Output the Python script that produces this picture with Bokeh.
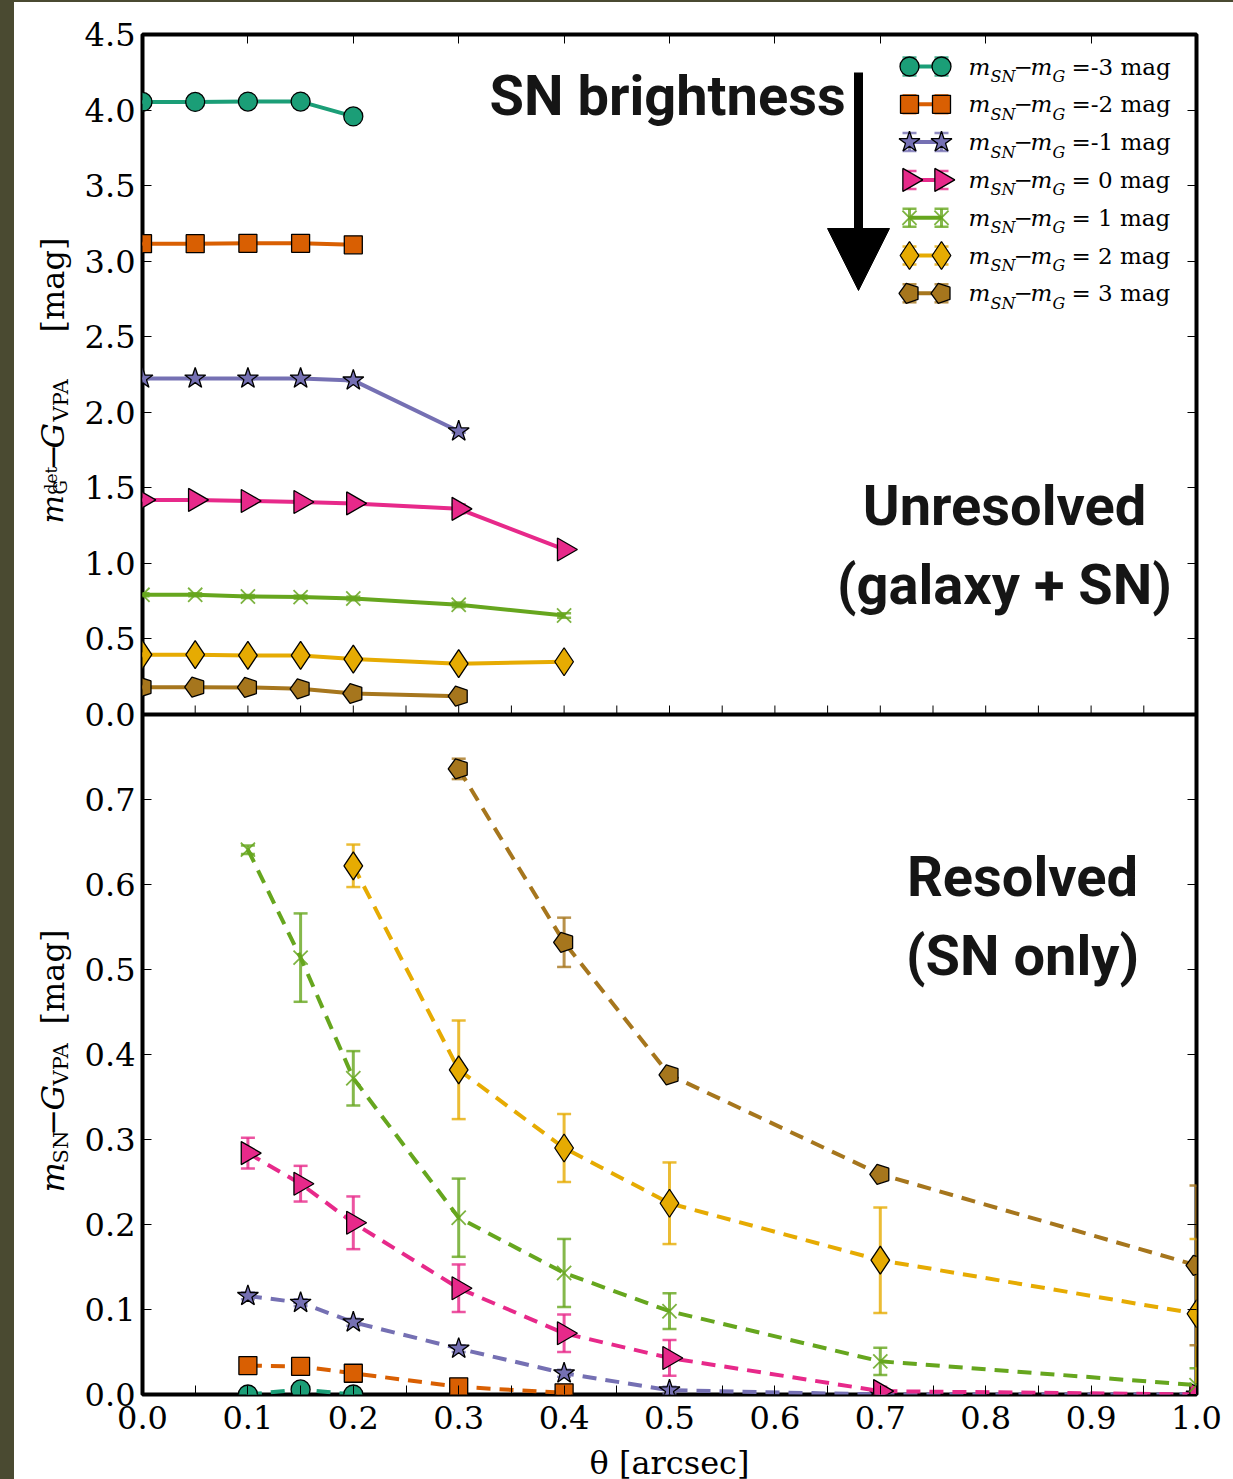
import math
from bokeh.plotting import figure
from bokeh.models import (Range1d, LinearAxis, FixedTicker, PrintfTickFormatter, Label,
                          Arrow, NormalHead, Whisker, TeeHead, ColumnDataSource, Div,
                          CustomJSTickFormatter, Span)
from bokeh.layouts import column, row
from bokeh.embed import file_html
from bokeh.resources import INLINE
from bokeh.core.properties import value

# ---------------- data ----------------
legend_texts = ["=-3 mag", "=-2 mag", "=-1 mag", "= 0 mag", "= 1 mag", "= 2 mag", "= 3 mag"]
colors = ["#1b9e77", "#d95f02", "#7570b3", "#e7298a", "#66a61e", "#e6ab02", "#a6761d"]
marker_kinds = ["circle", "square", "star", "triangle", "x", "diamond", "pentagon"]

# Unresolved (galaxy + SN): m_G^det - G_VPA [mag]
top_theta_m3 = [0.0, 0.05, 0.1, 0.15, 0.2]
top_val_m3 = [4.054, 4.054, 4.056, 4.056, 3.958]
top_err_m3 = [0.005, 0.005, 0.005, 0.005, 0.005]
top_theta_m2 = [0.0, 0.05, 0.1, 0.15, 0.2]
top_val_m2 = [3.116, 3.116, 3.118, 3.118, 3.108]
top_err_m2 = [0.005, 0.005, 0.005, 0.005, 0.005]
top_theta_m1 = [0.0, 0.05, 0.1, 0.15, 0.2, 0.3]
top_val_m1 = [2.224, 2.224, 2.224, 2.224, 2.211, 1.874]
top_err_m1 = [0.005, 0.005, 0.005, 0.005, 0.006, 0.01]
top_theta_0 = [0.0, 0.05, 0.1, 0.15, 0.2, 0.3, 0.4]
top_val_0 = [1.420, 1.420, 1.413, 1.406, 1.397, 1.361, 1.092]
top_err_0 = [0.006, 0.006, 0.006, 0.007, 0.008, 0.03, 0.01]
top_theta_p1 = [0.0, 0.05, 0.1, 0.15, 0.2, 0.3, 0.4]
top_val_p1 = [0.792, 0.792, 0.781, 0.777, 0.768, 0.726, 0.655]
top_err_p1 = [0.01, 0.01, 0.01, 0.01, 0.012, 0.015, 0.015]
top_theta_p2 = [0.0, 0.05, 0.1, 0.15, 0.2, 0.3, 0.4]
top_val_p2 = [0.396, 0.396, 0.391, 0.391, 0.367, 0.336, 0.349]
top_err_p2 = [0.01, 0.01, 0.01, 0.01, 0.01, 0.01, 0.01]
top_theta_p3 = [0.0, 0.05, 0.1, 0.15, 0.2, 0.3]
top_val_p3 = [0.181, 0.181, 0.179, 0.170, 0.139, 0.121]
top_err_p3 = [0.008, 0.008, 0.008, 0.008, 0.008, 0.008]

# Resolved (SN only): m_SN - G_VPA [mag]
bot_theta_m3 = [0.1, 0.15, 0.2]
bot_val_m3 = [0.0, 0.006, 0.0]
bot_err_m3 = [0.002, 0.002, 0.002]
bot_theta_m2 = [0.1, 0.15, 0.2, 0.3, 0.4]
bot_val_m2 = [0.034, 0.033, 0.025, 0.009, 0.002]
bot_err_m2 = [0.003, 0.003, 0.003, 0.003, 0.003]
bot_theta_m1 = [0.1, 0.15, 0.2, 0.3, 0.4, 0.5, 0.7, 1.0]
bot_val_m1 = [0.116, 0.108, 0.085, 0.054, 0.025, 0.005, 0.0, 0.0]
bot_err_m1 = [0.004, 0.004, 0.004, 0.004, 0.004, 0.004, 0.002, 0.002]
bot_theta_0 = [0.1, 0.15, 0.2, 0.3, 0.4, 0.5, 0.7, 1.0]
bot_val_0 = [0.284, 0.248, 0.202, 0.125, 0.072, 0.043, 0.004, 0.0]
bot_err_0 = [0.018, 0.021, 0.031, 0.028, 0.022, 0.021, 0.005, 0.003]
bot_theta_p1 = [0.1, 0.15, 0.2, 0.3, 0.4, 0.5, 0.7, 1.0]
bot_val_p1 = [0.641, 0.514, 0.372, 0.208, 0.143, 0.098, 0.039, 0.011]
bot_err_p1 = [0.005, 0.052, 0.032, 0.046, 0.040, 0.021, 0.016, 0.020]
bot_theta_p2 = [0.2, 0.3, 0.4, 0.5, 0.7, 1.0]
bot_val_p2 = [0.622, 0.382, 0.290, 0.225, 0.158, 0.095]
bot_err_p2 = [0.025, 0.058, 0.040, 0.048, 0.062, 0.088]
bot_theta_p3 = [0.3, 0.4, 0.5, 0.7, 1.0]
bot_val_p3 = [0.736, 0.532, 0.376, 0.259, 0.152]
bot_err_p3 = [0.012, 0.029, 0.005, 0.005, 0.094]

top_series = [(top_theta_m3, top_val_m3, top_err_m3), (top_theta_m2, top_val_m2, top_err_m2),
              (top_theta_m1, top_val_m1, top_err_m1), (top_theta_0, top_val_0, top_err_0),
              (top_theta_p1, top_val_p1, top_err_p1), (top_theta_p2, top_val_p2, top_err_p2),
              (top_theta_p3, top_val_p3, top_err_p3)]
bot_series = [(bot_theta_m3, bot_val_m3, bot_err_m3), (bot_theta_m2, bot_val_m2, bot_err_m2),
              (bot_theta_m1, bot_val_m1, bot_err_m1), (bot_theta_0, bot_val_0, bot_err_0),
              (bot_theta_p1, bot_val_p1, bot_err_p1), (bot_theta_p2, bot_val_p2, bot_err_p2),
              (bot_theta_p3, bot_val_p3, bot_err_p3)]

x_major = [0.0, 0.1, 0.2, 0.3, 0.4, 0.5, 0.6, 0.7, 0.8, 0.9, 1.0]
x_minor = [0.05, 0.15, 0.25, 0.35, 0.45, 0.55, 0.65, 0.75, 0.85, 0.95]
top_yticks = [0.0, 0.5, 1.0, 1.5, 2.0, 2.5, 3.0, 3.5, 4.0, 4.5]
bot_yticks = [0.0, 0.1, 0.2, 0.3, 0.4, 0.5, 0.6, 0.7]

# ---------------- geometry ----------------
STRIP = 14
LABW = 66
FRAME_L, FRAME_R = 142, 1196
TOP_T, MID, BOT_B = 34, 714, 1394
FW, FH = FRAME_R - FRAME_L, BOT_B - TOP_T
BOT_MAX = 0.8          # bottom panel occupies [0, 0.8] of the main y range
YMAX = 2 * BOT_MAX     # main y range [0, 1.6]; top panel mapped on extra range "top"
TOP_MAX = 4.5
SERIF = "DejaVu Serif"
BIG = "Roboto"


def xd(px):
    return (px - FRAME_L) / FW


def ytop(py):
    return TOP_MAX * (MID - py) / (MID - TOP_T)


def ybot(py):
    return BOT_MAX * (BOT_B - py) / (BOT_B - MID)


def top_to_main(t):
    return BOT_MAX + t * BOT_MAX / TOP_MAX


p = figure(frame_width=FW, frame_height=FH, x_range=Range1d(0, 1), y_range=Range1d(0, YMAX),
           output_backend="svg", toolbar_location=None,
           min_border_left=FRAME_L - STRIP - LABW, min_border_right=1233 - FRAME_R,
           min_border_top=TOP_T - 2, min_border_bottom=1479 - BOT_B,
           background_fill_color="white", border_fill_color="white")
p.extra_y_ranges = {"top": Range1d(-TOP_MAX, TOP_MAX)}
p.grid.visible = False
p.outline_line_color = "black"
p.outline_line_width = 4

yfmt = CustomJSTickFormatter(args=dict(b=BOT_MAX, t=TOP_MAX), code="""
    if (tick < b - 1e-6) { return tick.toFixed(1); }
    return ((tick - b) * t / b).toFixed(1);
""")
y_ticks_all = bot_yticks + [top_to_main(t) for t in top_yticks]

ya = p.yaxis[0]
ya.ticker = FixedTicker(ticks=y_ticks_all)
ya.formatter = yfmt
ya.major_label_text_font = SERIF
ya.major_label_text_font_size = "32px"
ya.major_label_text_color = "black"
ya.major_label_standoff = 7
ya.axis_line_color = None
ya.major_tick_in = 9
ya.major_tick_out = 0
ya.minor_tick_in = 0
ya.minor_tick_out = 0

xa = p.xaxis[0]
xa.ticker = FixedTicker(ticks=x_major, minor_ticks=x_minor)
xa.formatter = PrintfTickFormatter(format="%.1f")
xa.axis_line_color = None
xa.major_tick_in = 9
xa.major_tick_out = 0
xa.minor_tick_in = 9
xa.minor_tick_out = 0
xa.major_label_text_font = SERIF
xa.major_label_text_font_size = "32px"
xa.major_label_text_color = "black"
xa.major_label_standoff = 11
xa.axis_label = "θ [arcsec]"
xa.axis_label_text_font = SERIF
xa.axis_label_text_font_size = "32px"
xa.axis_label_text_font_style = "normal"
xa.axis_label_text_color = "black"
xa.axis_label_standoff = 12


def hidden_axis(ticks):
    return LinearAxis(ticker=FixedTicker(ticks=ticks),
                      formatter=CustomJSTickFormatter(code="return ''"),
                      major_label_text_font_size="0px", major_label_standoff=0,
                      axis_line_color=None, major_tick_in=9, major_tick_out=0,
                      minor_tick_in=0, minor_tick_out=0, major_tick_line_color="black")


p.add_layout(hidden_axis(y_ticks_all), "right")
p.add_layout(hidden_axis(x_major), "above")

# divider between the two panels, with the upper panel's inward ticks
p.add_layout(Span(location=BOT_MAX, dimension="width", line_color="black", line_width=4))
div_ticks = sorted(x_major + x_minor)
tick_len = 9 * YMAX / FH
p.segment(x0=div_ticks, y0=[BOT_MAX] * len(div_ticks), x1=div_ticks,
          y1=[BOT_MAX + tick_len] * len(div_ticks), line_color="black", line_width=1)


def draw_marker(src, kind, color, rname):
    common = dict(source=src, fill_color=color, line_color="black", line_width=1.3,
                  y_range_name=rname)
    if kind == "circle":
        p.scatter("x", "y", marker="circle", size=19, **common)
    elif kind == "square":
        p.scatter("x", "y", marker="square", size=18, **common)
    elif kind == "star":
        p.scatter("x", "y", marker="star", size=22, **common)
    elif kind == "triangle":
        p.scatter("x", "y", marker="triangle", size=23, angle=-math.pi / 2, **common)
    elif kind == "x":
        p.scatter("x", "y", marker="x", size=20, source=src, line_color=color,
                  line_width=1.8, line_alpha=0.85, y_range_name=rname)
    elif kind == "diamond":
        p.scatter("x", "y", marker="diamond", size=28, **common)
    elif kind == "pentagon":
        try:
            p.ngon("x", "y", radius=10.5, radius_units="screen", n=5, angle=math.pi / 2, **common)
        except Exception:
            p.scatter("x", "y", marker="hex", size=20, **common)


def draw_series(xs, ys, es, color, kind, dashed, rname):
    src = ColumnDataSource(dict(x=xs, y=ys,
                                upper=[v + e for v, e in zip(ys, es)],
                                lower=[v - e for v, e in zip(ys, es)]))
    p.add_layout(Whisker(source=src, base="x", upper="upper", lower="lower", dimension="height",
                         line_color=color, line_alpha=0.8, line_width=3, level="underlay",
                         y_range_name=rname,
                         upper_head=TeeHead(size=14, line_color=color, line_alpha=0.8, line_width=2.5),
                         lower_head=TeeHead(size=14, line_color=color, line_alpha=0.8, line_width=2.5)))
    p.line("x", "y", source=src, line_color=color, line_width=4,
           line_dash="14 9" if dashed else "solid", y_range_name=rname)
    draw_marker(src, kind, color, rname)


for (xs, ys, es), c, k in zip(top_series, colors, marker_kinds):
    draw_series(xs, ys, es, c, k, False, "top")
for (xs, ys, es), c, k in zip(bot_series, colors, marker_kinds):
    draw_series(xs, ys, es, c, k, True, "default")

# ---------------- legend (upper panel) ----------------
row_px = [66 + 37.8 * i for i in range(7)]
lx1, lx2 = xd(909), xd(941)
err_leg = 9 * TOP_MAX / (MID - TOP_T)
for i, (c, k) in enumerate(zip(colors, marker_kinds)):
    yr_ = ytop(row_px[i])
    draw_series([lx1, lx2], [yr_, yr_], [err_leg, err_leg], c, k, False, "top")

tx = xd(968)
n = len(row_px)
main_y = [ytop(r) for r in row_px]
sub_y = [ytop(r + 10) for r in row_px]


def legend_piece(ys, texts, dx, size, style):
    p.text(x=[tx] * n, y=ys, text=texts, x_offset=dx, text_font=value(SERIF),
           text_font_style=value(style), text_font_size=value(size),
           text_baseline="middle", text_align="left", text_color="black", y_range_name="top")


legend_piece(main_y, ["m"] * n, 0, "23px", "italic")
legend_piece(sub_y, ["SN"] * n, 22, "16px", "italic")
legend_piece(main_y, ["−"] * n, 45, "23px", "normal")
legend_piece(main_y, ["m"] * n, 62, "23px", "italic")
legend_piece(sub_y, ["G"] * n, 84, "16px", "italic")
legend_piece(main_y, legend_texts, 103, "23px", "normal")

# ---------------- big annotations ----------------
def big(x, y, t, align, rname):
    p.add_layout(Label(x=x, y=y, text=t, text_font=BIG, text_font_style="bold",
                       text_font_size="56px", text_align=align, text_baseline="middle",
                       text_color="#151515", y_range_name=rname))


big(xd(489), ytop(95), "SN brightness", "left", "top")
big(xd(1004), ytop(505), "Unresolved", "center", "top")
big(xd(1004), ytop(584), "(galaxy + SN)", "center", "top")
big(xd(1022), ybot(876), "Resolved", "center", "default")
big(xd(1022), ybot(955), "(SN only)", "center", "default")

p.add_layout(Arrow(end=NormalHead(size=62, fill_color="black", line_color="black"),
                   x_start=xd(858), y_start=ytop(72), x_end=xd(858), y_end=ytop(290),
                   line_width=9, line_color="black", y_range_name="top"))

# ---------------- rotated y-axis titles (own narrow canvas) ----------------
lf = figure(frame_width=LABW, frame_height=FH, x_range=Range1d(0, LABW), y_range=Range1d(0, FH),
            output_backend="svg", toolbar_location=None,
            x_axis_location=None, y_axis_location=None,
            min_border_left=0, min_border_right=0,
            min_border_top=TOP_T - 2, min_border_bottom=1479 - BOT_B,
            background_fill_color="white", border_fill_color="white")
lf.grid.visible = False
lf.outline_line_color = None


def vlabel(pieces):
    for t, start_py, size, style, cx in pieces:
        lf.add_layout(Label(x=cx - STRIP, y=BOT_B - start_py, text=t, angle=math.pi / 2,
                            text_font=SERIF, text_font_style=style, text_font_size=size,
                            text_align="left", text_baseline="middle", text_color="black"))


vlabel([("m", 523, "30px", "italic", 52),
        ("det", 494, "17px", "normal", 50),
        ("G", 494, "18px", "normal", 60),
        ("−", 470, "32px", "normal", 52),
        ("G", 448, "32px", "italic", 52),
        ("VPA", 421, "21px", "normal", 60),
        ("[mag]", 332, "32px", "normal", 52)])
vlabel([("m", 1192, "32px", "italic", 52),
        ("SN", 1163, "21px", "normal", 60),
        ("−", 1135, "32px", "normal", 52),
        ("G", 1110, "32px", "italic", 52),
        ("VPA", 1085, "21px", "normal", 60),
        ("[mag]", 1024, "32px", "normal", 52)])

# ---------------- page ----------------
strip = Div(width=STRIP, height=1479, margin=0, styles={"background-color": "#4a4a31"})
topline = Div(width=1233 - STRIP, height=2, margin=0, styles={"background-color": "#4a4a31"})
layout = row(strip, column(topline, row(lf, p, spacing=0), spacing=0), spacing=0)

open("out.html", "w").write(file_html(layout, INLINE))
